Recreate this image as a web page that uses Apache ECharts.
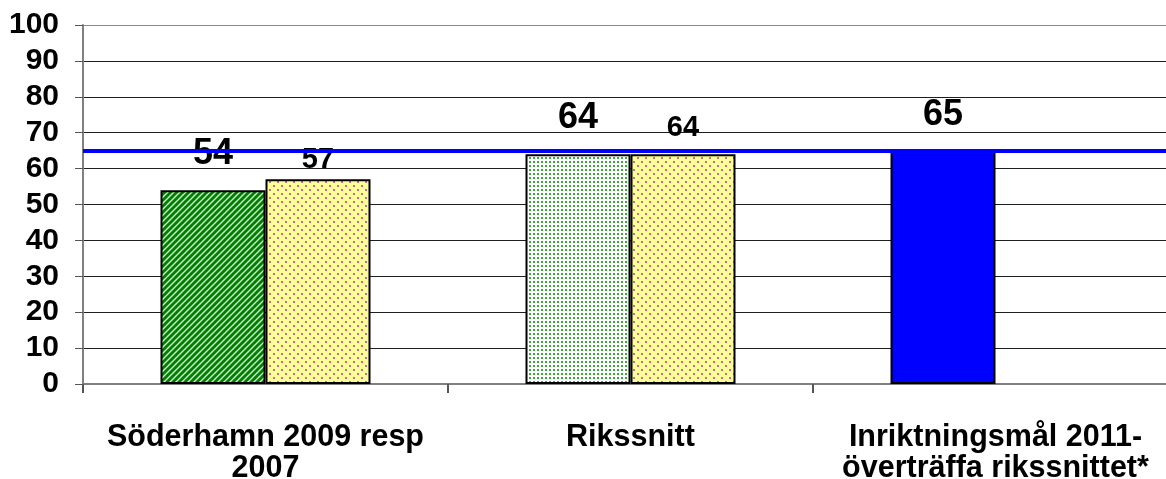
<!DOCTYPE html>
<html>
<head>
<meta charset="utf-8">
<script src="https://cdn.jsdelivr.net/npm/echarts@6/dist/echarts.min.js"></script>
<style>
html,body{margin:0;padding:0;background:#fff;overflow:hidden;}
#chart{width:1166px;height:479px;}
</style>
</head>
<body>
<div id="chart"></div>
<script>
const categories = ['Söderhamn 2009 resp\n2007', 'Rikssnitt', 'Inriktningsmål 2011-\növerträffa rikssnittet*'];
const seriesA = [54, 64, 65];
const seriesB = [57, 64, null];
const targetValue = 65;
const yMin = 0, yMax = 100, yStep = 10;

function makePattern(size, draw) {
  const c = document.createElement('canvas');
  c.width = size; c.height = size;
  const ctx = c.getContext('2d');
  draw(ctx, size);
  return { image: c, repeat: 'repeat' };
}
const hatchGreen = makePattern(6, (ctx, s) => {
  ctx.fillStyle = '#008000'; ctx.fillRect(0, 0, s, s);
  ctx.strokeStyle = '#cfeecf'; ctx.lineWidth = 1.4;
  ctx.beginPath();
  ctx.moveTo(-1, s + 1); ctx.lineTo(s + 1, -1);
  ctx.moveTo(-1, 1); ctx.lineTo(1, -1);
  ctx.moveTo(s - 1, s + 1); ctx.lineTo(s + 1, s - 1);
  ctx.stroke();
});
const dotsGreen = makePattern(4, (ctx, s) => {
  ctx.fillStyle = '#ffffff'; ctx.fillRect(0, 0, s, s);
  ctx.fillStyle = '#3aa83a'; ctx.fillRect(1, 1, 2, 2);
});
const dotsYellow = makePattern(8, (ctx, s) => {
  ctx.fillStyle = '#ffff99'; ctx.fillRect(0, 0, s, s);
  ctx.fillStyle = '#cc6a8a';
  ctx.fillRect(1, 1, 2, 2);
  ctx.fillRect(5, 5, 2, 2);
});
const colorsA = [hatchGreen, dotsGreen, '#0000ff'];
const labelDistB = [5, 12, 12];

const chart = echarts.init(document.getElementById('chart'), null, { renderer: 'canvas' });
const splitColors = [];
for (let i = 0; i <= (yMax - yMin) / yStep; i++) splitColors.push(i === (yMax - yMin) / yStep ? '#8a8a8a' : '#1e1e1e');

chart.setOption({
  animation: false,
  backgroundColor: '#ffffff',
  grid: { left: 83, width: 1095, top: 25, height: 359, containLabel: false, outerBoundsMode: 'none' },
  xAxis: {
    type: 'category',
    data: categories,
    axisLine: { show: true, lineStyle: { color: '#808080', width: 2 } },
    axisTick: { show: true, alignWithLabel: false, length: 9, lineStyle: { color: '#555', width: 2 } },
    axisLabel: {
      interval: 0, margin: 38,
      fontFamily: 'Liberation Sans, Arial, sans-serif', fontWeight: 'bold', fontSize: 30.5,
      color: '#000', lineHeight: 31
    }
  },
  yAxis: {
    type: 'value', min: yMin, max: yMax, interval: yStep,
    axisLine: { show: true, lineStyle: { color: '#808080', width: 2 } },
    axisTick: { show: true, length: 8, lineStyle: { color: '#555', width: 1 } },
    axisLabel: {
      margin: 24,
      fontFamily: 'Liberation Sans, Arial, sans-serif', fontWeight: 'bold', fontSize: 30, color: '#000'
    },
    splitLine: { show: true, lineStyle: { color: splitColors, width: 1 } }
  },
  series: [
    {
      type: 'bar',
      barWidth: 105,
      barGap: '0%',
      data: seriesA.map((v, i) => ({ value: v, itemStyle: { color: colorsA[i] } })),
      itemStyle: { borderColor: '#000', borderWidth: 2 },
      label: {
        show: true, position: 'top', distance: 18,
        fontFamily: 'Liberation Sans, Arial, sans-serif', fontWeight: 'bold', fontSize: 36, color: '#000'
      },
      markLine: {
        silent: true, symbol: 'none', z: 5,
        label: { show: false },
        lineStyle: { color: '#0000ff', width: 4, type: 'solid' },
        data: [{ yAxis: targetValue }]
      },
      z: 2
    },
    {
      type: 'bar',
      barWidth: 105,
      data: seriesB.map((v, i) => v === null ? '-' : { value: v, label: { distance: labelDistB[i] } }),
      itemStyle: { color: dotsYellow, borderColor: '#000', borderWidth: 2 },
      label: {
        show: true, position: 'top', distance: 12,
        fontFamily: 'Liberation Sans, Arial, sans-serif', fontWeight: 'bold', fontSize: 29, color: '#000'
      },
      z: 2
    }
  ]
});
</script>
</body>
</html>
